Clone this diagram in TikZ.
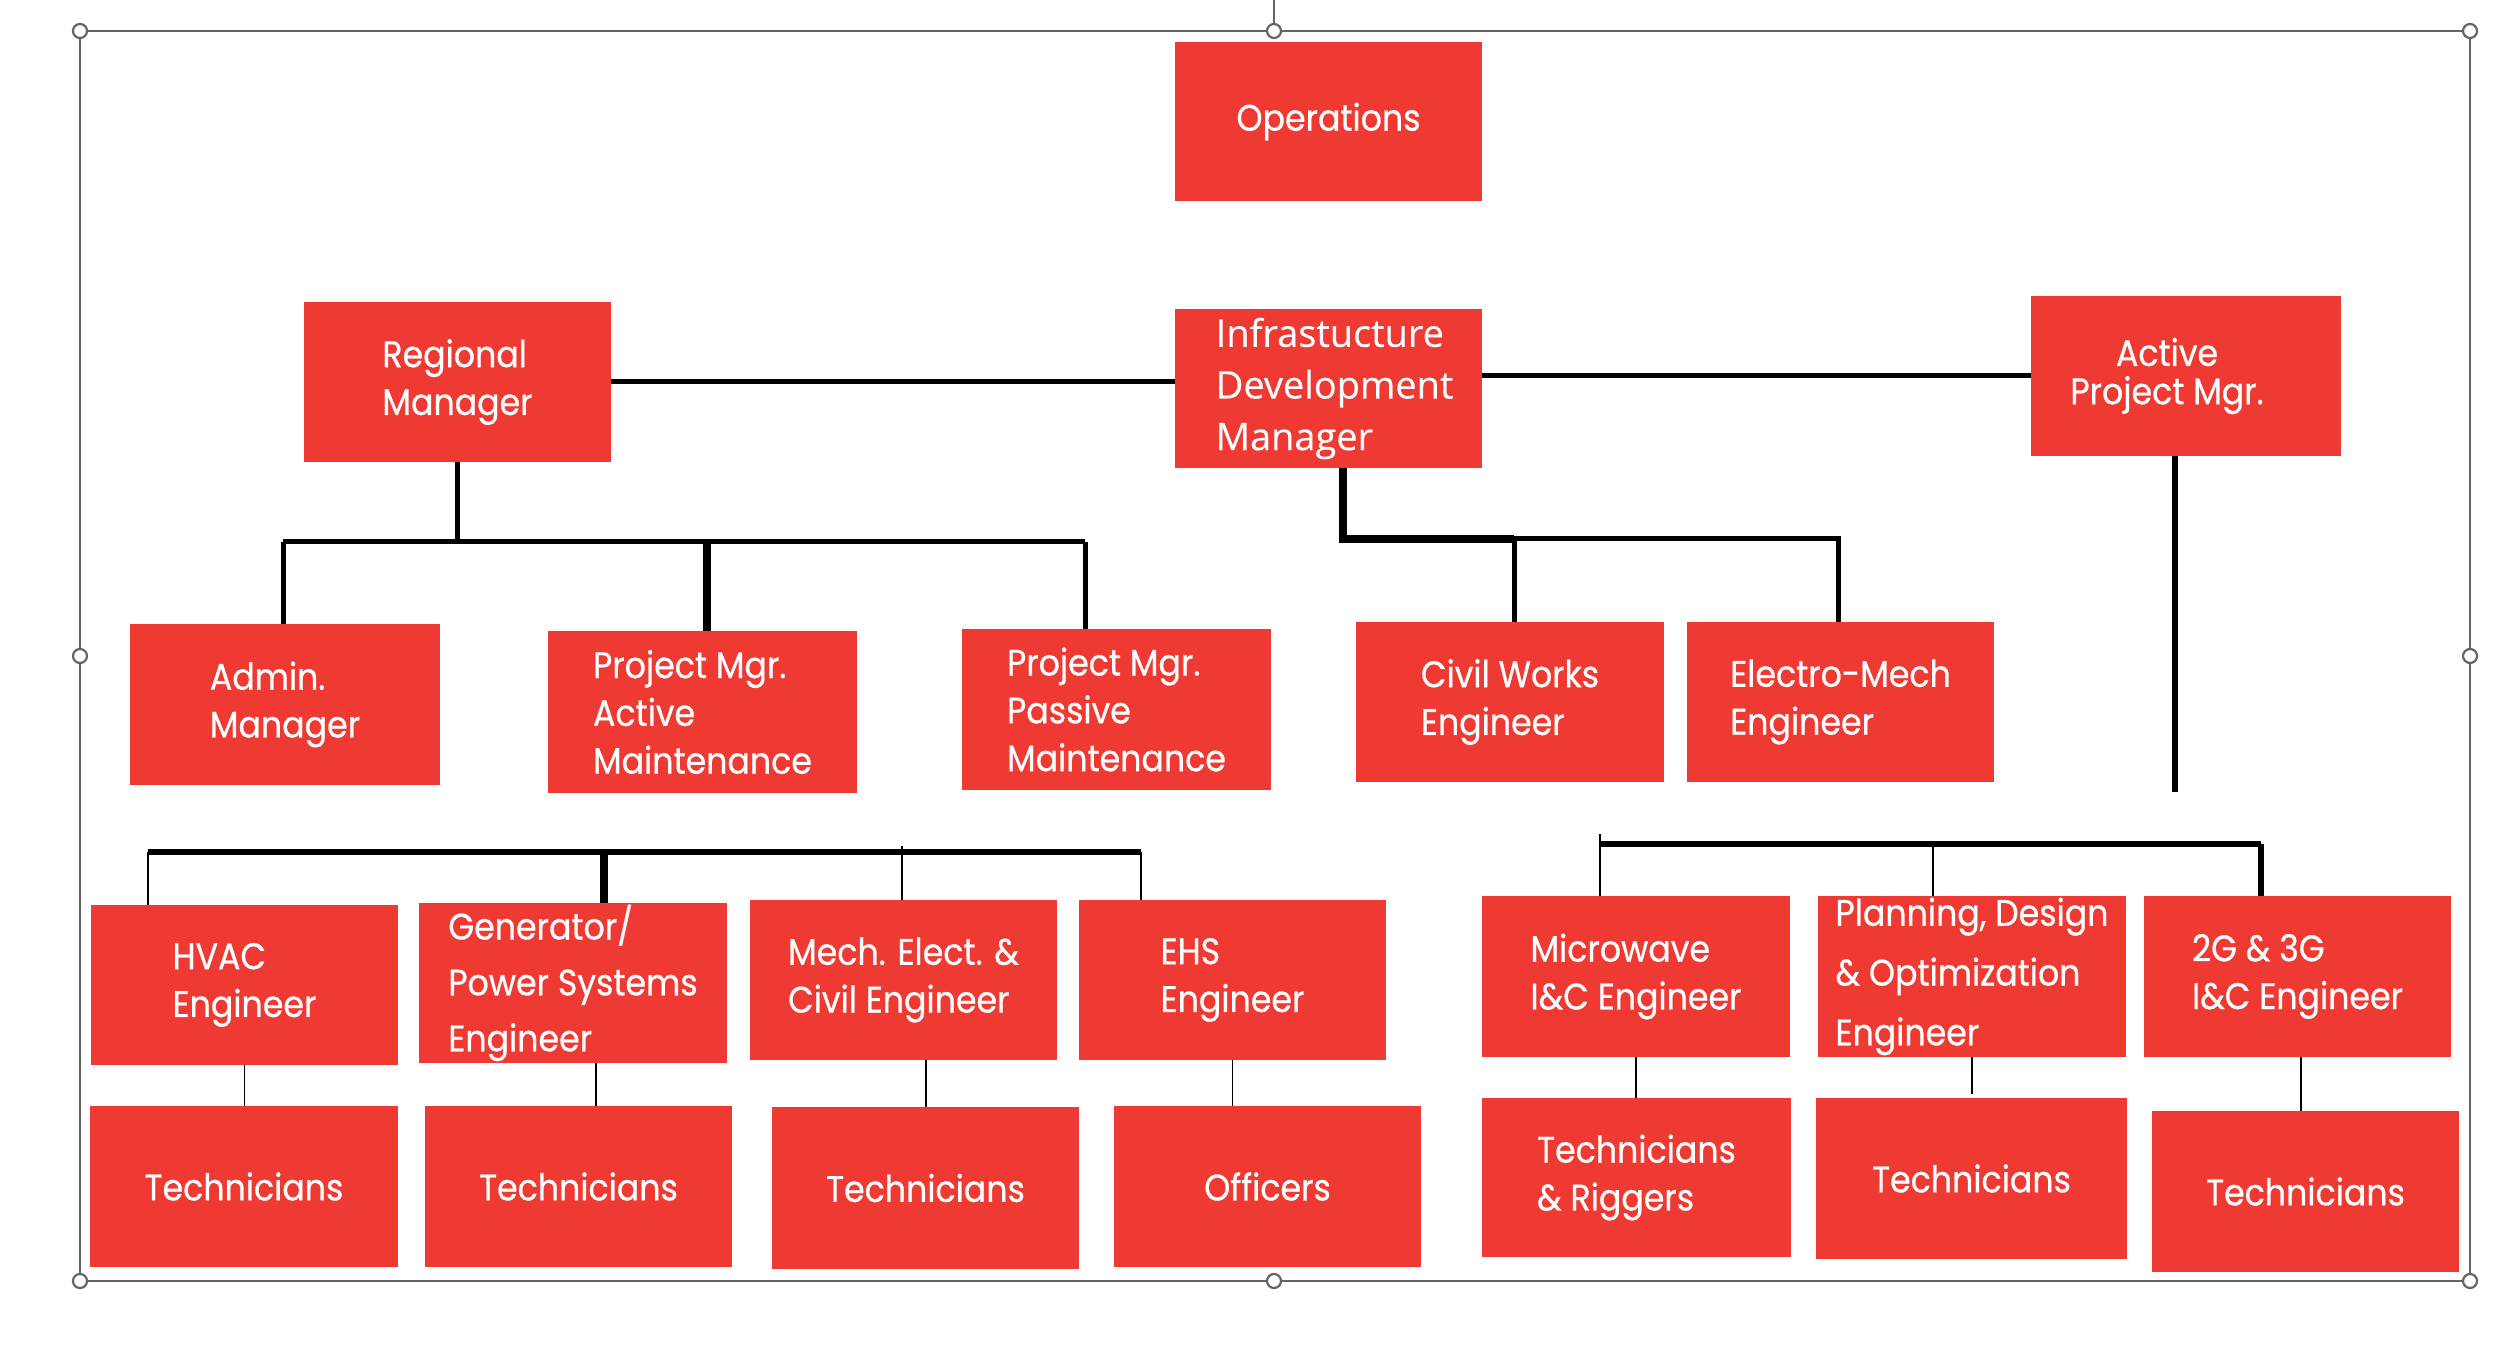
\documentclass[tikz,border=0pt]{standalone}
\usepackage{fontspec}
\setmainfont{Poppins}[FakeStretch=0.9,FakeBold=0.6]
\newfontfamily\opensans{Open Sans}[FakeBold=0.3]
\definecolor{boxred}{RGB}{238,58,50}
\definecolor{selgrey}{RGB}{100,100,100}
\tikzset{
  orgbox/.style={fill=boxred, text=white, inner sep=0pt, outer sep=0pt, align=left,
    font=\fontsize{10.5}{13.6}\selectfont},
  orgtext/.style={text=white, inner sep=0pt, outer sep=0pt, align=center,
    font=\fontsize{10.5}{10.9}\selectfont},
  lnA/.style={line width=0.15mm, black},
  lnB/.style={line width=0.22mm, black},
  lnC/.style={line width=0.5mm, black},
  lnD/.style={line width=0.65mm, black},
  lnE/.style={line width=0.85mm, black},
  selframe/.style={line width=0.22mm, selgrey},
  selhandle/.style={line width=0.22mm, selgrey, fill=white},
}
\newcommand\orgbx[7][]{\node[orgbox,minimum width={(#5-#3)*0.1mm},minimum height={(#6-#4)*0.1mm},#1] (#2) at ({(#3+#5)/2},{(#4+#6)/2}) {#7};}
\begin{document}
\begin{tikzpicture}[x=0.1mm,y=-0.1mm]
\useasboundingbox[fill=white] (0,0) rectangle (2507,1345);
% selection frame
\draw[selframe] (80,31) rectangle (2470,1281);
\coordinate (rot) at (1274,0);
\coordinate (hTM) at (1274,31);
\draw[selframe] (rot) -- (hTM);
\foreach \hx/\hy in {80/31,1274/31,2470/31,80/656,2470/656,80/1281,1274/1281,2470/1281}
  \draw[selhandle] (\hx,\hy) circle[radius=7];
% boxes
\orgbx{ops}{1175}{42}{1482}{201}{Operations}
\orgbx{reg}{304}{302}{611}{462}{Regional\\Manager}
\orgbx[font=\opensans\fontsize{10.8}{14.7}\selectfont]{infra}{1175}{309}{1482}{468}{\hspace*{1.2mm}Infrastucture\\\hspace*{1.2mm}Development\\\hspace*{1.2mm}Manager}
\orgbx{active}{2031}{296}{2341}{456}{}
\node[orgtext, xshift=-1.9mm] (activeT) at (active) {Active\\Project Mgr.};
\orgbx{admin}{130}{624}{440}{785}{Admin.\\Manager}
\orgbx{pma}{548}{631}{857}{793}{Project Mgr.\\Active\\Maintenance}
\orgbx{pmp}{962}{629}{1271}{790}{Project Mgr.\\Passive\\Maintenance}
\orgbx{civil}{1356}{622}{1664}{782}{Civil Works\\Engineer}
\orgbx{elec}{1687}{622}{1994}{782}{Electro-Mech\\Engineer}
\orgbx{hvac}{91}{905}{398}{1065}{HVAC\\Engineer}
\orgbx[font=\fontsize{10.5}{15.9}\selectfont]{gen}{419}{903}{727}{1063}{Generator/\\Power Systems\\Engineer}
\orgbx{mech}{750}{900}{1057}{1060}{Mech. Elect. \&\\Civil Engineer}
\orgbx{ehs}{1079}{900}{1386}{1060}{EHS\\Engineer}
\orgbx{micro}{1482}{896}{1790}{1057}{Microwave\\I\&C Engineer}
\orgbx[font=\fontsize{10.5}{17}\selectfont]{plan}{1818}{896}{2126}{1057}{Planning, Design\\\& Optimization\\Engineer}
\orgbx{gtwo}{2144}{896}{2451}{1057}{2G \& 3G\\I\&C Engineer}
\orgbx{tA}{90}{1106}{398}{1267}{Technicians}
\orgbx{tB}{425}{1106}{732}{1267}{Technicians}
\orgbx{tC}{772}{1107}{1079}{1269}{Technicians}
\orgbx{tD}{1114}{1106}{1421}{1267}{Officers}
\orgbx{tE}{1482}{1098}{1791}{1257}{Technicians\\\& Riggers}
\orgbx{tF}{1816}{1098}{2127}{1259}{Technicians}
\orgbx{tG}{2152}{1111}{2459}{1272}{Technicians}
% top row connectors
\draw[lnC] (reg.east) -- (reg.east -| infra.west);
\draw[lnC] (active.west) -- (active.west -| infra.east);
% regional manager branch
\coordinate (jA) at (283,542);
\coordinate (jB) at (707,542);
\coordinate (jC) at (1085,542);
\draw[lnC] (reg.south) -- (reg.south |- jA);
\draw[lnC] (jA) -- (jC);
\draw[lnC] (jA) -- (jA |- admin.north);
\draw[lnE] (jB) -- (jB |- pma.north);
\draw[lnC] (jC) -- (jC |- pmp.north);
% infrastructure branch
\coordinate (jD) at (1343,539);
\coordinate (jE) at (1514,539);
\coordinate (jF) at (1838,539);
\draw[lnE] (jD |- infra.south) -- (jD) -- (jE);
\draw[lnC] (jE) -- (jF) -- (jF |- elec.north);
\draw[lnC] (jE) -- (jE |- civil.north);
% active project manager
\coordinate (jG) at (2175,792);
\draw[lnD] (jG |- active.south) -- (jG);
% right engineer bar
\coordinate (jH) at (1600,844);
\coordinate (jI) at (1933,844);
\coordinate (jJ) at (2261,844);
\draw[lnD] (jH) -- (jJ);
\draw[lnB] (jH) ++(0,-10) -- (jH |- micro.north);
\draw[lnA] (jI) ++(0,-3) -- (jI |- plan.north);
\draw[lnD] (jJ) -- (jJ |- gtwo.north);
% left engineer bar
\coordinate (jK) at (148,852);
\coordinate (jL) at (604,852);
\coordinate (jM) at (902,852);
\coordinate (jN) at (1141,852);
\draw[lnD] (jK) -- (jN);
\draw[lnB] (jK) -- (jK |- hvac.north);
\draw[lnE] (jL) -- (jL |- gen.north);
\draw[lnA] (jM) ++(0,-6) -- (jM |- mech.north);
\draw[lnB] (jN) -- (jN |- ehs.north);
% engineer to staff
\coordinate (kB) at (596,0);
\coordinate (kC) at (926,0);
\coordinate (kG) at (2301,0);
\draw[lnA] (hvac.south) -- (hvac.south |- tA.north);
\draw[lnA] (kB |- gen.south) -- (kB |- tB.north);
\draw[lnA] (kC |- mech.south) -- (kC |- tC.north);
\draw[lnA] (ehs.south) -- (ehs.south |- tD.north);
\draw[lnA] (micro.south) -- (micro.south |- tE.north);
\draw[lnA] (plan.south) -- ++(0,37);
\draw[lnA] (kG |- gtwo.south) -- (kG |- tG.north);
\end{tikzpicture}
\end{document}
